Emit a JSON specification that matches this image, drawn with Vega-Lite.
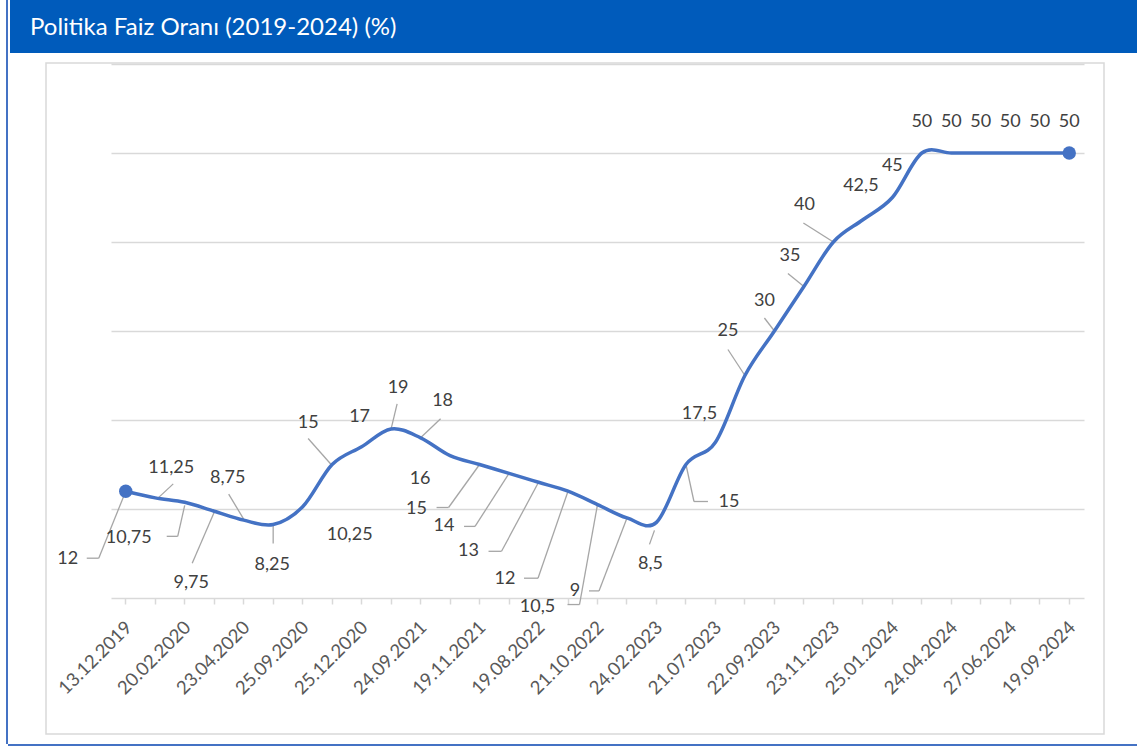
{
  "$schema": "https://vega.github.io/schema/vega-lite/v6.json",
  "padding": {"left": 6, "top": 0, "right": 0, "bottom": 0},
  "background": "#ffffff",
  "config": {
    "view": {"stroke": null},
    "locale": {"number": {"decimal": ",", "thousands": ".", "grouping": [3], "currency": ["", " TL"]}}
  },
  "spacing": 0,
  "hconcat": [
    {"width": 2, "height": 744, "view": {"fill": "#4472C4", "stroke": null}, "data": {"values": []}, "mark": "rect"},
    {
      "spacing": 9,
      "vconcat": [
        {
          "spacing": 0,
          "hconcat": [
            {"width": 2, "height": 53, "view": {"fill": "#ffffff", "stroke": null}, "data": {"values": []}, "mark": "rect"},
            {
              "width": 1127, "height": 53,
              "view": {"fill": "#005BBB", "stroke": null},
              "data": {"values": [{"title": "Politika Faiz Oranı (2019-2024) (%)"}]},
              "mark": {"type": "text", "align": "left", "baseline": "middle", "dx": 20, "dy": 1, "font": "Lato", "fontSize": 24, "color": "#ffffff"},
              "encoding": {
                "text": {"field": "title"},
                "x": {"datum": 0, "type": "quantitative", "scale": {"domain": [0, 1]}, "axis": null}
              }
            }
          ]
        },
        {
          "spacing": 0,
          "hconcat": [
            {"width": 37, "height": 671, "view": {"fill": "#ffffff", "stroke": null}, "data": {"values": []}, "mark": "rect"},
            {
              "width": 1058, "height": 671,
              "view": {"fill": "#ffffff", "stroke": "#D9D9D9", "strokeWidth": 1.5},
              "data": {"values": [
                {"date": "13.12.2019", "rate": 12},
                {"date": "16.01.2020", "rate": 11.25},
                {"date": "20.02.2020", "rate": 10.75},
                {"date": "18.03.2020", "rate": 9.75},
                {"date": "23.04.2020", "rate": 8.75},
                {"date": "21.05.2020", "rate": 8.25},
                {"date": "25.09.2020", "rate": 10.25},
                {"date": "20.11.2020", "rate": 15},
                {"date": "25.12.2020", "rate": 17},
                {"date": "19.03.2021", "rate": 19},
                {"date": "24.09.2021", "rate": 18},
                {"date": "22.10.2021", "rate": 16},
                {"date": "19.11.2021", "rate": 15},
                {"date": "17.12.2021", "rate": 14},
                {"date": "19.08.2022", "rate": 13},
                {"date": "23.09.2022", "rate": 12},
                {"date": "21.10.2022", "rate": 10.5},
                {"date": "25.11.2022", "rate": 9},
                {"date": "24.02.2023", "rate": 8.5},
                {"date": "23.06.2023", "rate": 15},
                {"date": "21.07.2023", "rate": 17.5},
                {"date": "25.08.2023", "rate": 25},
                {"date": "22.09.2023", "rate": 30},
                {"date": "27.10.2023", "rate": 35},
                {"date": "23.11.2023", "rate": 40},
                {"date": "22.12.2023", "rate": 42.5},
                {"date": "25.01.2024", "rate": 45},
                {"date": "22.03.2024", "rate": 50},
                {"date": "24.04.2024", "rate": 50},
                {"date": "23.05.2024", "rate": 50},
                {"date": "27.06.2024", "rate": 50},
                {"date": "23.07.2024", "rate": 50},
                {"date": "19.09.2024", "rate": 50}
              ]},
              "encoding": {
                "x": {
                  "field": "date", "type": "ordinal", "sort": null,
                  "scale": {"type": "band", "range": [65, 1038], "paddingInner": 0, "paddingOuter": 0},
                  "axis": {
                    "orient": "bottom", "offset": -136, "title": null, "grid": false,
                    "domainColor": "#D9D9D9", "domainWidth": 1.5,
                    "tickColor": "#D9D9D9", "tickWidth": 1.5, "tickSize": 6, "bandPosition": 0.5,
                    "labelAngle": -45, "labelAlign": "right", "labelBaseline": "middle",
                    "labelFont": "Lato", "labelFontSize": 18.5, "labelColor": "#595959", "labelPadding": 20, "labelOffset": 3,
                    "labelOverlap": false,
                    "labelExpr": "indexof(['13.12.2019','20.02.2020','23.04.2020','25.09.2020','25.12.2020','24.09.2021','19.11.2021','19.08.2022','21.10.2022','24.02.2023','21.07.2023','22.09.2023','23.11.2023','25.01.2024','24.04.2024','27.06.2024','19.09.2024'], datum.value) >= 0 ? datum.label : ''"
                  }
                },
                "y": {
                  "field": "rate", "type": "quantitative",
                  "scale": {"domain": [0, 60], "range": [535, 1], "nice": false},
                  "axis": {
                    "orient": "left", "grid": true, "labels": false, "ticks": false, "domain": false, "title": null,
                    "values": [10, 20, 30, 40, 50, 60], "gridColor": "#D9D9D9", "gridWidth": 1.5
                  }
                }
              },
              "layer": [
                {"mark": {"type": "point", "opacity": 0, "size": 1}},
                {"transform": [{"filter": {"field": "date", "equal": "13.12.2019"}}], "mark": {"type": "rule", "color": "#A6A6A6", "strokeWidth": 1.3, "xOffset": 0, "yOffset": 0, "x2Offset": -27, "y2Offset": 67}, "encoding": {"x2": {"field": "date"}, "y2": {"field": "rate"}}},
                {"transform": [{"filter": {"field": "date", "equal": "13.12.2019"}}], "mark": {"type": "rule", "color": "#A6A6A6", "strokeWidth": 1.3, "xOffset": -27, "yOffset": 67, "x2Offset": -39, "y2Offset": 67}, "encoding": {"x2": {"field": "date"}, "y2": {"field": "rate"}}},
                {"transform": [{"filter": {"field": "date", "equal": "16.01.2020"}}], "mark": {"type": "rule", "color": "#A6A6A6", "strokeWidth": 1.3, "xOffset": 3, "yOffset": 0, "x2Offset": 18, "y2Offset": -14}, "encoding": {"x2": {"field": "date"}, "y2": {"field": "rate"}}},
                {"transform": [{"filter": {"field": "date", "equal": "20.02.2020"}}], "mark": {"type": "rule", "color": "#A6A6A6", "strokeWidth": 1.3, "xOffset": 0, "yOffset": 3, "x2Offset": -7, "y2Offset": 34}, "encoding": {"x2": {"field": "date"}, "y2": {"field": "rate"}}},
                {"transform": [{"filter": {"field": "date", "equal": "20.02.2020"}}], "mark": {"type": "rule", "color": "#A6A6A6", "strokeWidth": 1.3, "xOffset": -7, "yOffset": 34, "x2Offset": -18, "y2Offset": 34}, "encoding": {"x2": {"field": "date"}, "y2": {"field": "rate"}}},
                {"transform": [{"filter": {"field": "date", "equal": "18.03.2020"}}], "mark": {"type": "rule", "color": "#A6A6A6", "strokeWidth": 1.3, "xOffset": 0, "yOffset": 1, "x2Offset": -22, "y2Offset": 52}, "encoding": {"x2": {"field": "date"}, "y2": {"field": "rate"}}},
                {"transform": [{"filter": {"field": "date", "equal": "23.04.2020"}}], "mark": {"type": "rule", "color": "#A6A6A6", "strokeWidth": 1.3, "xOffset": 0, "yOffset": -1, "x2Offset": -15, "y2Offset": -26}, "encoding": {"x2": {"field": "date"}, "y2": {"field": "rate"}}},
                {"transform": [{"filter": {"field": "date", "equal": "21.05.2020"}}], "mark": {"type": "rule", "color": "#A6A6A6", "strokeWidth": 1.3, "xOffset": 0, "yOffset": 1, "x2Offset": 0, "y2Offset": 19}, "encoding": {"x2": {"field": "date"}, "y2": {"field": "rate"}}},
                {"transform": [{"filter": {"field": "date", "equal": "20.11.2020"}}], "mark": {"type": "rule", "color": "#A6A6A6", "strokeWidth": 1.3, "xOffset": -1, "yOffset": 0, "x2Offset": -24, "y2Offset": -26}, "encoding": {"x2": {"field": "date"}, "y2": {"field": "rate"}}},
                {"transform": [{"filter": {"field": "date", "equal": "19.03.2021"}}], "mark": {"type": "rule", "color": "#A6A6A6", "strokeWidth": 1.3, "xOffset": 0, "yOffset": 0, "x2Offset": 6, "y2Offset": -25}, "encoding": {"x2": {"field": "date"}, "y2": {"field": "rate"}}},
                {"transform": [{"filter": {"field": "date", "equal": "24.09.2021"}}], "mark": {"type": "rule", "color": "#A6A6A6", "strokeWidth": 1.3, "xOffset": 0, "yOffset": 0, "x2Offset": 20, "y2Offset": -19}, "encoding": {"x2": {"field": "date"}, "y2": {"field": "rate"}}},
                {"transform": [{"filter": {"field": "date", "equal": "19.11.2021"}}], "mark": {"type": "rule", "color": "#A6A6A6", "strokeWidth": 1.3, "xOffset": 0, "yOffset": 0, "x2Offset": -31, "y2Offset": 43}, "encoding": {"x2": {"field": "date"}, "y2": {"field": "rate"}}},
                {"transform": [{"filter": {"field": "date", "equal": "19.11.2021"}}], "mark": {"type": "rule", "color": "#A6A6A6", "strokeWidth": 1.3, "xOffset": -31, "yOffset": 43, "x2Offset": -43, "y2Offset": 43}, "encoding": {"x2": {"field": "date"}, "y2": {"field": "rate"}}},
                {"transform": [{"filter": {"field": "date", "equal": "17.12.2021"}}], "mark": {"type": "rule", "color": "#A6A6A6", "strokeWidth": 1.3, "xOffset": 0, "yOffset": 0, "x2Offset": -34, "y2Offset": 53}, "encoding": {"x2": {"field": "date"}, "y2": {"field": "rate"}}},
                {"transform": [{"filter": {"field": "date", "equal": "17.12.2021"}}], "mark": {"type": "rule", "color": "#A6A6A6", "strokeWidth": 1.3, "xOffset": -34, "yOffset": 53, "x2Offset": -45, "y2Offset": 53}, "encoding": {"x2": {"field": "date"}, "y2": {"field": "rate"}}},
                {"transform": [{"filter": {"field": "date", "equal": "19.08.2022"}}], "mark": {"type": "rule", "color": "#A6A6A6", "strokeWidth": 1.3, "xOffset": 0, "yOffset": 0, "x2Offset": -37, "y2Offset": 69}, "encoding": {"x2": {"field": "date"}, "y2": {"field": "rate"}}},
                {"transform": [{"filter": {"field": "date", "equal": "19.08.2022"}}], "mark": {"type": "rule", "color": "#A6A6A6", "strokeWidth": 1.3, "xOffset": -37, "yOffset": 69, "x2Offset": -50, "y2Offset": 69}, "encoding": {"x2": {"field": "date"}, "y2": {"field": "rate"}}},
                {"transform": [{"filter": {"field": "date", "equal": "23.09.2022"}}], "mark": {"type": "rule", "color": "#A6A6A6", "strokeWidth": 1.3, "xOffset": 0, "yOffset": 0, "x2Offset": -30, "y2Offset": 87}, "encoding": {"x2": {"field": "date"}, "y2": {"field": "rate"}}},
                {"transform": [{"filter": {"field": "date", "equal": "23.09.2022"}}], "mark": {"type": "rule", "color": "#A6A6A6", "strokeWidth": 1.3, "xOffset": -30, "yOffset": 87, "x2Offset": -44, "y2Offset": 87}, "encoding": {"x2": {"field": "date"}, "y2": {"field": "rate"}}},
                {"transform": [{"filter": {"field": "date", "equal": "21.10.2022"}}], "mark": {"type": "rule", "color": "#A6A6A6", "strokeWidth": 1.3, "xOffset": 0, "yOffset": 0, "x2Offset": -18, "y2Offset": 100}, "encoding": {"x2": {"field": "date"}, "y2": {"field": "rate"}}},
                {"transform": [{"filter": {"field": "date", "equal": "21.10.2022"}}], "mark": {"type": "rule", "color": "#A6A6A6", "strokeWidth": 1.3, "xOffset": -18, "yOffset": 100, "x2Offset": -30, "y2Offset": 100}, "encoding": {"x2": {"field": "date"}, "y2": {"field": "rate"}}},
                {"transform": [{"filter": {"field": "date", "equal": "25.11.2022"}}], "mark": {"type": "rule", "color": "#A6A6A6", "strokeWidth": 1.3, "xOffset": 0, "yOffset": 0, "x2Offset": -28, "y2Offset": 73}, "encoding": {"x2": {"field": "date"}, "y2": {"field": "rate"}}},
                {"transform": [{"filter": {"field": "date", "equal": "25.11.2022"}}], "mark": {"type": "rule", "color": "#A6A6A6", "strokeWidth": 1.3, "xOffset": -28, "yOffset": 73, "x2Offset": -38, "y2Offset": 73}, "encoding": {"x2": {"field": "date"}, "y2": {"field": "rate"}}},
                {"transform": [{"filter": {"field": "date", "equal": "24.02.2023"}}], "mark": {"type": "rule", "color": "#A6A6A6", "strokeWidth": 1.3, "xOffset": -2, "yOffset": 8, "x2Offset": -7, "y2Offset": 22}, "encoding": {"x2": {"field": "date"}, "y2": {"field": "rate"}}},
                {"transform": [{"filter": {"field": "date", "equal": "23.06.2023"}}], "mark": {"type": "rule", "color": "#A6A6A6", "strokeWidth": 1.3, "xOffset": 0, "yOffset": 0, "x2Offset": 8, "y2Offset": 37}, "encoding": {"x2": {"field": "date"}, "y2": {"field": "rate"}}},
                {"transform": [{"filter": {"field": "date", "equal": "23.06.2023"}}], "mark": {"type": "rule", "color": "#A6A6A6", "strokeWidth": 1.3, "xOffset": 8, "yOffset": 37, "x2Offset": 22, "y2Offset": 37}, "encoding": {"x2": {"field": "date"}, "y2": {"field": "rate"}}},
                {"transform": [{"filter": {"field": "date", "equal": "25.08.2023"}}], "mark": {"type": "rule", "color": "#A6A6A6", "strokeWidth": 1.3, "xOffset": 0, "yOffset": 0, "x2Offset": -17, "y2Offset": -26}, "encoding": {"x2": {"field": "date"}, "y2": {"field": "rate"}}},
                {"transform": [{"filter": {"field": "date", "equal": "22.09.2023"}}], "mark": {"type": "rule", "color": "#A6A6A6", "strokeWidth": 1.3, "xOffset": 0, "yOffset": 0, "x2Offset": -10, "y2Offset": -13}, "encoding": {"x2": {"field": "date"}, "y2": {"field": "rate"}}},
                {"transform": [{"filter": {"field": "date", "equal": "27.10.2023"}}], "mark": {"type": "rule", "color": "#A6A6A6", "strokeWidth": 1.3, "xOffset": 0, "yOffset": 0, "x2Offset": -16, "y2Offset": -13}, "encoding": {"x2": {"field": "date"}, "y2": {"field": "rate"}}},
                {"transform": [{"filter": {"field": "date", "equal": "23.11.2023"}}], "mark": {"type": "rule", "color": "#A6A6A6", "strokeWidth": 1.3, "xOffset": 0, "yOffset": 0, "x2Offset": -30, "y2Offset": -19}, "encoding": {"x2": {"field": "date"}, "y2": {"field": "rate"}}},
                {"mark": {"type": "line", "interpolate": "cardinal", "tension": 0, "color": "#4472C4", "strokeWidth": 3.5}},
                {"transform": [{"filter": {"field": "date", "oneOf": ["13.12.2019", "19.09.2024"]}}], "mark": {"type": "point", "filled": true, "opacity": 1, "size": 180, "color": "#4472C4"}},
                {"transform": [{"filter": {"field": "date", "equal": "13.12.2019"}}], "mark": {"type": "text", "font": "Lato", "fontSize": 18, "color": "#404040", "align": "center", "baseline": "middle", "dx": -58, "dy": 68}, "encoding": {"text": {"field": "rate", "type": "quantitative", "format": "~g"}}},
                {"transform": [{"filter": {"field": "date", "equal": "16.01.2020"}}], "mark": {"type": "text", "font": "Lato", "fontSize": 18, "color": "#404040", "align": "center", "baseline": "middle", "dx": 16, "dy": -30}, "encoding": {"text": {"field": "rate", "type": "quantitative", "format": "~g"}}},
                {"transform": [{"filter": {"field": "date", "equal": "20.02.2020"}}], "mark": {"type": "text", "font": "Lato", "fontSize": 18, "color": "#404040", "align": "center", "baseline": "middle", "dx": -56, "dy": 36}, "encoding": {"text": {"field": "rate", "type": "quantitative", "format": "~g"}}},
                {"transform": [{"filter": {"field": "date", "equal": "18.03.2020"}}], "mark": {"type": "text", "font": "Lato", "fontSize": 18, "color": "#404040", "align": "center", "baseline": "middle", "dx": -23, "dy": 72}, "encoding": {"text": {"field": "rate", "type": "quantitative", "format": "~g"}}},
                {"transform": [{"filter": {"field": "date", "equal": "23.04.2020"}}], "mark": {"type": "text", "font": "Lato", "fontSize": 18, "color": "#404040", "align": "center", "baseline": "middle", "dx": -16, "dy": -42}, "encoding": {"text": {"field": "rate", "type": "quantitative", "format": "~g"}}},
                {"transform": [{"filter": {"field": "date", "equal": "21.05.2020"}}], "mark": {"type": "text", "font": "Lato", "fontSize": 18, "color": "#404040", "align": "center", "baseline": "middle", "dx": -1, "dy": 40}, "encoding": {"text": {"field": "rate", "type": "quantitative", "format": "~g"}}},
                {"transform": [{"filter": {"field": "date", "equal": "25.09.2020"}}], "mark": {"type": "text", "font": "Lato", "fontSize": 18, "color": "#404040", "align": "center", "baseline": "middle", "dx": 47, "dy": 28}, "encoding": {"text": {"field": "rate", "type": "quantitative", "format": "~g"}}},
                {"transform": [{"filter": {"field": "date", "equal": "20.11.2020"}}], "mark": {"type": "text", "font": "Lato", "fontSize": 18, "color": "#404040", "align": "center", "baseline": "middle", "dx": -24, "dy": -42}, "encoding": {"text": {"field": "rate", "type": "quantitative", "format": "~g"}}},
                {"transform": [{"filter": {"field": "date", "equal": "25.12.2020"}}], "mark": {"type": "text", "font": "Lato", "fontSize": 18, "color": "#404040", "align": "center", "baseline": "middle", "dx": -2, "dy": -30}, "encoding": {"text": {"field": "rate", "type": "quantitative", "format": "~g"}}},
                {"transform": [{"filter": {"field": "date", "equal": "19.03.2021"}}], "mark": {"type": "text", "font": "Lato", "fontSize": 18, "color": "#404040", "align": "center", "baseline": "middle", "dx": 7, "dy": -41}, "encoding": {"text": {"field": "rate", "type": "quantitative", "format": "~g"}}},
                {"transform": [{"filter": {"field": "date", "equal": "24.09.2021"}}], "mark": {"type": "text", "font": "Lato", "fontSize": 18, "color": "#404040", "align": "center", "baseline": "middle", "dx": 22, "dy": -37}, "encoding": {"text": {"field": "rate", "type": "quantitative", "format": "~g"}}},
                {"transform": [{"filter": {"field": "date", "equal": "22.10.2021"}}], "mark": {"type": "text", "font": "Lato", "fontSize": 18, "color": "#404040", "align": "center", "baseline": "middle", "dx": -30, "dy": 23}, "encoding": {"text": {"field": "rate", "type": "quantitative", "format": "~g"}}},
                {"transform": [{"filter": {"field": "date", "equal": "19.11.2021"}}], "mark": {"type": "text", "font": "Lato", "fontSize": 18, "color": "#404040", "align": "center", "baseline": "middle", "dx": -63, "dy": 44}, "encoding": {"text": {"field": "rate", "type": "quantitative", "format": "~g"}}},
                {"transform": [{"filter": {"field": "date", "equal": "17.12.2021"}}], "mark": {"type": "text", "font": "Lato", "fontSize": 18, "color": "#404040", "align": "center", "baseline": "middle", "dx": -65, "dy": 53}, "encoding": {"text": {"field": "rate", "type": "quantitative", "format": "~g"}}},
                {"transform": [{"filter": {"field": "date", "equal": "19.08.2022"}}], "mark": {"type": "text", "font": "Lato", "fontSize": 18, "color": "#404040", "align": "center", "baseline": "middle", "dx": -70, "dy": 69}, "encoding": {"text": {"field": "rate", "type": "quantitative", "format": "~g"}}},
                {"transform": [{"filter": {"field": "date", "equal": "23.09.2022"}}], "mark": {"type": "text", "font": "Lato", "fontSize": 18, "color": "#404040", "align": "center", "baseline": "middle", "dx": -63, "dy": 88}, "encoding": {"text": {"field": "rate", "type": "quantitative", "format": "~g"}}},
                {"transform": [{"filter": {"field": "date", "equal": "21.10.2022"}}], "mark": {"type": "text", "font": "Lato", "fontSize": 18, "color": "#404040", "align": "center", "baseline": "middle", "dx": -60, "dy": 102}, "encoding": {"text": {"field": "rate", "type": "quantitative", "format": "~g"}}},
                {"transform": [{"filter": {"field": "date", "equal": "25.11.2022"}}], "mark": {"type": "text", "font": "Lato", "fontSize": 18, "color": "#404040", "align": "center", "baseline": "middle", "dx": -52, "dy": 73}, "encoding": {"text": {"field": "rate", "type": "quantitative", "format": "~g"}}},
                {"transform": [{"filter": {"field": "date", "equal": "24.02.2023"}}], "mark": {"type": "text", "font": "Lato", "fontSize": 18, "color": "#404040", "align": "center", "baseline": "middle", "dx": -6, "dy": 42}, "encoding": {"text": {"field": "rate", "type": "quantitative", "format": "~g"}}},
                {"transform": [{"filter": {"field": "date", "equal": "23.06.2023"}}], "mark": {"type": "text", "font": "Lato", "fontSize": 18, "color": "#404040", "align": "center", "baseline": "middle", "dx": 43, "dy": 37}, "encoding": {"text": {"field": "rate", "type": "quantitative", "format": "~g"}}},
                {"transform": [{"filter": {"field": "date", "equal": "21.07.2023"}}], "mark": {"type": "text", "font": "Lato", "fontSize": 18, "color": "#404040", "align": "center", "baseline": "middle", "dx": -16, "dy": -28}, "encoding": {"text": {"field": "rate", "type": "quantitative", "format": "~g"}}},
                {"transform": [{"filter": {"field": "date", "equal": "25.08.2023"}}], "mark": {"type": "text", "font": "Lato", "fontSize": 18, "color": "#404040", "align": "center", "baseline": "middle", "dx": -17, "dy": -45}, "encoding": {"text": {"field": "rate", "type": "quantitative", "format": "~g"}}},
                {"transform": [{"filter": {"field": "date", "equal": "22.09.2023"}}], "mark": {"type": "text", "font": "Lato", "fontSize": 18, "color": "#404040", "align": "center", "baseline": "middle", "dx": -10, "dy": -30}, "encoding": {"text": {"field": "rate", "type": "quantitative", "format": "~g"}}},
                {"transform": [{"filter": {"field": "date", "equal": "27.10.2023"}}], "mark": {"type": "text", "font": "Lato", "fontSize": 18, "color": "#404040", "align": "center", "baseline": "middle", "dx": -14, "dy": -31}, "encoding": {"text": {"field": "rate", "type": "quantitative", "format": "~g"}}},
                {"transform": [{"filter": {"field": "date", "equal": "23.11.2023"}}], "mark": {"type": "text", "font": "Lato", "fontSize": 18, "color": "#404040", "align": "center", "baseline": "middle", "dx": -29, "dy": -37}, "encoding": {"text": {"field": "rate", "type": "quantitative", "format": "~g"}}},
                {"transform": [{"filter": {"field": "date", "equal": "22.12.2023"}}], "mark": {"type": "text", "font": "Lato", "fontSize": 18, "color": "#404040", "align": "center", "baseline": "middle", "dx": -2, "dy": -34}, "encoding": {"text": {"field": "rate", "type": "quantitative", "format": "~g"}}},
                {"transform": [{"filter": {"field": "date", "equal": "25.01.2024"}}], "mark": {"type": "text", "font": "Lato", "fontSize": 18, "color": "#404040", "align": "center", "baseline": "middle", "dx": 0, "dy": -32}, "encoding": {"text": {"field": "rate", "type": "quantitative", "format": "~g"}}},
                {"transform": [{"filter": {"field": "rate", "equal": 50}}], "mark": {"type": "text", "font": "Lato", "fontSize": 18, "color": "#404040", "align": "center", "baseline": "middle", "dx": 0, "dy": -31}, "encoding": {"text": {"field": "rate", "type": "quantitative", "format": "~g"}}}
              ]
            }
          ]
        },
        {"width": 1129, "height": 2, "view": {"fill": "#4472C4", "stroke": null}, "data": {"values": []}, "mark": "rect"}
      ]
    }
  ]
}
